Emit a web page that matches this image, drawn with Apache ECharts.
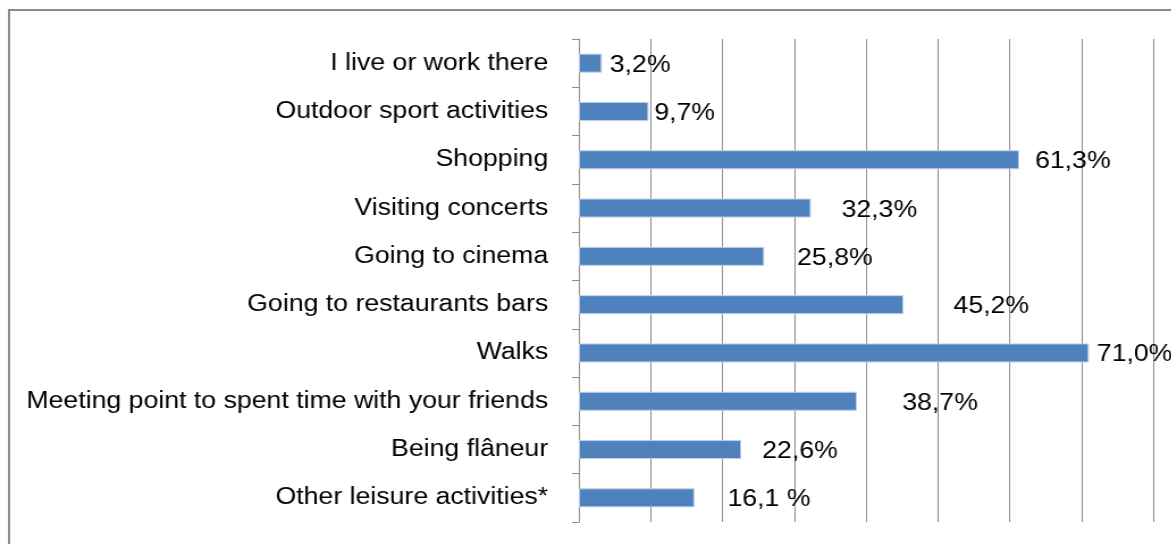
<!DOCTYPE html>
<html>
<head>
<meta charset="utf-8">
<script src="https://cdn.jsdelivr.net/npm/echarts@6/dist/echarts.min.js"></script>
<style>
html,body{margin:0;padding:0;background:#fff;overflow:hidden;width:1171px;height:544px;}
#chart{width:1032px;height:544px;transform:scaleX(1.135);transform-origin:0 0;}
</style>
</head>
<body>
<div id="chart"></div>
<script>
// Data
var categories = [
  "I live or work there",
  "Outdoor sport activities",
  "Shopping",
  "Visiting concerts",
  "Going to cinema",
  "Going to restaurants bars",
  "Walks",
  "Meeting point to spent time with your friends",
  "Being flâneur",
  "Other leisure activities*"
];
var values = [3.2, 9.7, 61.3, 32.3, 25.8, 45.2, 71.0, 38.7, 22.6, 16.1];
var valueLabels = ["3,2%", "9,7%", "61,3%", "32,3%", "25,8%", "45,2%", "71,0%", "38,7%", "22,6%", "16,1 %"];

// Style: label gap from bar end (as in the original layout)
var labelGap = [7, 5, 14, 27, 29, 44, 7, 40, 18.5, 29];

var chart = echarts.init(document.getElementById('chart'), null, {renderer: 'canvas'});
var font = '"Liberation Sans", Arial, Helvetica, sans-serif';

var seriesData = values.map(function (v, i) {
  return {
    value: v,
    label: {distance: labelGap[i]}
  };
});

chart.setOption({
  animation: false,
  backgroundColor: '#ffffff',
  graphic: [{
    type: 'rect',
    shape: {x: 8, y: 10, width: 1300, height: 700},
    style: {fill: 'none', stroke: '#8a8a8a', lineWidth: 2},
    silent: true,
    z: -10
  }],
  grid: {left: 510, right: 15.7, top: 39, bottom: 22, containLabel: false},
  xAxis: {
    type: 'value',
    min: 0,
    max: 80,
    interval: 10,
    axisLine: {show: false},
    axisTick: {show: false},
    axisLabel: {show: false},
    splitLine: {show: true, lineStyle: {color: '#8c8c8c', width: 1}}
  },
  yAxis: {
    type: 'category',
    data: categories,
    inverse: true,
    axisLine: {show: true, lineStyle: {color: '#8c8c8c', width: 1}},
    axisTick: {show: true, length: 6, lineStyle: {color: '#8c8c8c'}},
    axisLabel: {
      margin: 27,
      color: '#000',
      fontFamily: font,
      fontSize: 23.5,
      padding: [3, 0, 0, 0]
    },
    splitLine: {show: false}
  },
  series: [{
    type: 'bar',
    data: seriesData,
    barWidth: 19,
    itemStyle: {color: '#4F81BD', borderColor: '#bcd0e8', borderWidth: 1},
    label: {
      show: true,
      position: 'right',
      offset: [0, 2],
      color: '#000',
      fontFamily: font,
      fontSize: 23.5,
      formatter: function (p) { return valueLabels[p.dataIndex]; }
    }
  }]
});
</script>
</body>
</html>
